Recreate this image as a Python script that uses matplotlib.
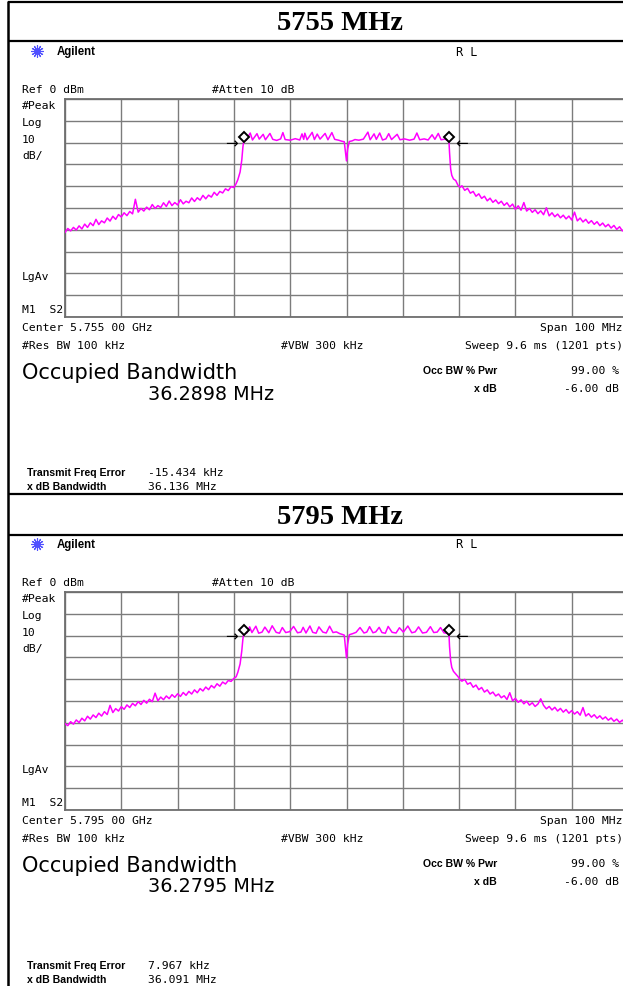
import numpy as np
import matplotlib.pyplot as plt

W, H = 623, 987

# ---- trace 1 : 5755 MHz (offset from centre in MHz, level in dBm) ----
left1_f = [-50.0, -49.5, -49.0, -48.5, -48.0, -47.5, -47.0, -46.5, -46.0, -45.5,
           -45.0, -44.5, -44.0, -43.5, -43.0, -42.5, -42.0, -41.5, -41.0, -40.5,
           -40.0, -39.5, -39.0, -38.5, -38.0, -37.5, -37.0, -36.5, -36.0, -35.5,
           -35.0, -34.5, -34.0, -33.5, -33.0, -32.5, -32.0, -31.5, -31.0, -30.5,
           -30.0, -29.5, -29.0, -28.5, -28.0, -27.5, -27.0, -26.5, -26.0, -25.5,
           -25.0, -24.5, -24.0, -23.5, -23.0, -22.5, -22.0, -21.5, -21.0, -20.5,
           -20.0, -19.6, -19.3, -18.9, -18.6, -18.4, -18.2]
left1_db = [-61.2, -59.4, -60.5, -58.9, -60.1, -58.2, -59.6, -57.4, -58.9, -56.8,
            -58.1, -55.2, -57.6, -55.9, -56.8, -54.6, -56.0, -53.8, -55.2, -53.0,
            -54.1, -52.2, -53.5, -51.6, -52.7, -46.0, -51.9, -50.2, -51.4, -49.6,
            -50.8, -48.4, -50.2, -48.9, -49.8, -47.6, -49.3, -46.8, -48.9, -47.5,
            -48.6, -46.2, -48.1, -46.9, -47.6, -45.4, -47.0, -45.3, -46.4, -44.2,
            -45.8, -44.1, -45.0, -42.8, -44.2, -42.4, -43.1, -41.2, -42.0, -40.2,
            -40.6, -38.8, -37.0, -33.5, -28.0, -22.0, -18.6]
top1_f = [-17.8, -17.1, -16.7, -15.9, -15.5, -14.8, -14.4, -13.6, -13.1, -12.4,
          -11.7, -11.3, -10.9, -10.0, -9.1, -8.3, -7.9, -7.6, -7.4, -7.0,
          -6.1, -5.7, -5.2, -4.7, -3.8, -3.3, -2.6, -2.1, -1.4, -0.8,
          -0.4, -0.2, 0.0, 0.2, 0.5, 1.0, 1.5, 2.2, 3.0, 3.8,
          4.2, 4.9, 5.3, 5.9, 6.4, 7.0, 7.5, 8.0, 9.0, 9.5,
          10.3, 11.2, 12.0, 12.5, 13.0, 13.8, 14.5, 15.2, 15.7, 16.3,
          16.8, 17.5, 18.0, 18.2]
top1_db = [-18.9, -15.6, -18.8, -15.9, -18.4, -16.2, -18.7, -15.8, -18.5, -19.0,
           -18.3, -15.4, -18.6, -18.9, -18.2, -18.8, -16.0, -18.5, -15.7, -18.7,
           -15.3, -18.6, -16.1, -18.4, -15.8, -18.7, -15.4, -18.5, -18.9, -19.4,
           -19.6, -24.0, -28.4, -23.0, -19.5, -19.2, -18.6, -18.9, -18.4, -15.2,
           -18.7, -16.0, -18.5, -15.6, -18.8, -18.3, -15.9, -18.6, -16.2, -18.7,
           -18.3, -18.9, -18.4, -15.6, -18.7, -18.3, -18.8, -16.4, -18.5, -15.8,
           -18.7, -18.4, -19.0, -19.3]
right1_f = [18.3, 18.5, 18.7, 19.0, 19.4, 19.8, 20.2, 20.5, 21.0, 21.5,
            22.0, 22.5, 23.0, 23.5, 24.0, 24.5, 25.0, 25.5, 26.0, 26.5,
            27.0, 27.5, 28.0, 28.5, 29.0, 29.5, 30.0, 30.5, 31.0, 31.5,
            32.0, 32.5, 33.0, 33.5, 34.0, 34.5, 35.0, 35.5, 36.0, 36.5,
            37.0, 37.5, 38.0, 38.5, 39.0, 39.5, 40.0, 40.5, 41.0, 41.5,
            42.0, 42.5, 43.0, 43.5, 44.0, 44.5, 45.0, 45.5, 46.0, 46.5,
            47.0, 47.5, 48.0, 48.5, 49.0, 49.5, 50.0]
right1_db = [-24.5, -32.1, -35.0, -36.7, -37.4, -39.6, -40.5, -39.8, -41.9, -41.0,
             -43.2, -42.4, -44.6, -43.5, -45.6, -44.6, -46.7, -45.5, -47.4, -46.3,
             -48.0, -46.9, -48.8, -47.6, -49.5, -48.2, -50.6, -49.0, -51.0, -47.5,
             -51.4, -50.2, -52.0, -50.8, -52.6, -51.3, -53.1, -49.9, -53.6, -52.2,
             -54.0, -52.8, -54.5, -53.3, -55.0, -53.7, -55.5, -51.9, -55.9, -54.6,
             -56.4, -55.2, -57.0, -55.8, -57.5, -56.3, -58.1, -56.9, -58.6, -57.5,
             -59.2, -58.0, -59.8, -58.6, -60.5, -59.3, -60.8]

# ---- trace 2 : 5795 MHz ----
left2_f = left1_f
left2_db = [-60.4, -61.3, -59.5, -60.6, -58.7, -59.9, -57.9, -59.1, -57.0, -58.3,
            -56.4, -57.6, -55.6, -56.9, -54.9, -56.2, -52.0, -55.3, -53.5, -54.6,
            -52.6, -53.8, -51.8, -53.0, -51.1, -52.2, -50.3, -51.6, -49.7, -51.0,
            -49.2, -50.3, -46.4, -49.9, -48.2, -49.4, -47.7, -48.9, -47.1, -48.3,
            -46.7, -47.9, -46.1, -47.4, -45.6, -46.8, -44.9, -46.2, -44.3, -45.4,
            -43.6, -44.8, -42.9, -44.0, -42.1, -43.2, -41.3, -42.2, -40.6, -41.0,
            -39.6, -38.9, -36.8, -33.0, -27.0, -21.5, -18.5]
top2_f = [-17.7, -17.2, -16.8, -16.1, -15.6, -15.0, -14.5, -13.8, -13.2, -12.5,
          -11.9, -11.4, -10.8, -10.1, -9.4, -8.7, -8.1, -7.7, -7.2, -6.5,
          -6.0, -5.4, -4.9, -4.2, -3.6, -3.0, -2.4, -1.8, -1.2, -0.7,
          -0.4, -0.2, 0.0, 0.2, 0.5, 1.1, 1.7, 2.4, 3.1, 3.6,
          4.1, 4.7, 5.2, 5.8, 6.3, 6.9, 7.4, 8.1, 8.8, 9.4,
          10.1, 10.9, 11.6, 12.2, 12.8, 13.5, 14.2, 14.9, 15.5, 16.1,
          16.7, 17.3, 17.9, 18.2]
top2_db = [-18.8, -16.0, -18.6, -15.7, -18.9, -18.4, -16.1, -18.7, -15.5, -18.5,
           -18.9, -16.3, -18.6, -18.2, -15.8, -18.7, -18.4, -16.2, -18.8, -15.6,
           -18.5, -18.9, -16.0, -18.4, -18.8, -15.7, -18.6, -18.3, -19.1, -19.5,
           -19.8, -25.0, -30.2, -24.0, -19.6, -19.1, -18.5, -16.3, -18.8, -18.4,
           -15.9, -18.7, -18.3, -16.2, -18.6, -18.9, -15.8, -18.5, -18.8, -16.4,
           -18.4, -15.6, -18.7, -18.3, -16.0, -18.8, -18.5, -15.9, -18.6, -18.4,
           -16.3, -18.7, -19.0, -19.4]
right2_f = right1_f
right2_db = [-25.0, -31.5, -34.6, -36.4, -37.6, -38.8, -40.3, -40.9, -40.1, -42.3,
             -41.6, -43.7, -42.7, -44.8, -43.8, -45.9, -44.9, -46.8, -45.9, -47.7,
             -46.8, -48.5, -47.6, -49.3, -46.2, -49.9, -48.8, -50.6, -49.5, -51.3,
             -50.1, -51.9, -50.8, -52.5, -51.4, -49.0, -52.0, -53.6, -52.5, -54.1,
             -52.9, -54.6, -53.4, -55.1, -53.9, -55.6, -54.4, -56.0, -54.9, -56.5,
             -53.0, -56.9, -55.8, -57.4, -56.3, -57.9, -56.8, -58.3, -57.3, -58.8,
             -57.8, -59.3, -58.3, -59.8, -58.8, -60.2, -59.4]

titles = ["5755 MHz", "5795 MHz"]
centres = ["Center 5.755 00 GHz", "Center 5.795 00 GHz"]
occ_bw = [36.2898, 36.2795]          # MHz
freq_err = ["-15.434 kHz", "7.967 kHz"]
xdb_bw = ["36.136 MHz", "36.091 MHz"]

traces = [
    (left1_f + top1_f + right1_f, left1_db + top1_db + right1_db),
    (left2_f + top2_f + right2_f, left2_db + top2_db + right2_db),
]

MONO = "DejaVu Sans Mono"
SANS = "Liberation Sans"

fig = plt.figure(figsize=(W / 100, H / 100), dpi=100)
bg = fig.add_axes([0, 0, 1, 1], zorder=0)
bg.set_xlim(0, W)
bg.set_ylim(H, 0)
bg.axis("off")


def txt(x, y, s, **kw):
    kw.setdefault("family", MONO)
    kw.setdefault("fontsize", 8.2)
    kw.setdefault("va", "center")
    bg.text(x, y, s, **kw)


# outer frame
bg.plot([8, 8], [2, H], color="black", lw=1.8, solid_capstyle="butt")
for yy in [3, 42, 495, 536]:
    bg.plot([8, W], [yy, yy], color="black", lw=1.6, solid_capstyle="butt")

panel_dy = [0, 493]
for i in range(2):
    d = panel_dy[i]
    txt(340, 24 + d, titles[i], family="Liberation Serif", weight="bold",
        fontsize=20.5, ha="center")

    # instrument header
    bg.plot(37, 52 + d, marker=(12, 2, 0), ms=9, color="#5050ff", mew=0.8)
    txt(57, 52 + d, "Agilent", family=SANS, weight="bold", fontsize=8.3)
    txt(456, 52 + d, "R L", fontsize=8.5)
    txt(22, 90 + d, "Ref 0 dBm")
    txt(212, 90 + d, "#Atten 10 dB")
    for yy, s in zip([106, 123, 140, 156], ["#Peak", "Log", "10", "dB/"]):
        txt(22, yy + d, s)
    txt(22, 277 + d, "LgAv")
    txt(22, 310 + d, "M1  S2")
    txt(22, 328 + d, centres[i])
    txt(W, 328 + d, "Span 100 MHz", ha="right")
    txt(22, 346 + d, "#Res BW 100 kHz")
    txt(281, 346 + d, "#VBW 300 kHz")
    txt(W, 346 + d, "Sweep 9.6 ms (1201 pts)", ha="right")

    # measurement readout
    txt(22, 373 + d, "Occupied Bandwidth", family="DejaVu Sans", fontsize=15)
    txt(148, 394 + d, f"{occ_bw[i]:.4f} MHz", family="DejaVu Sans",
        fontsize=13.8)
    txt(497, 371 + d, "Occ BW % Pwr", family=SANS, weight="bold",
        fontsize=7.6, ha="right")
    txt(619, 371 + d, "99.00 %", ha="right")
    txt(497, 389 + d, "x dB", family=SANS, weight="bold", fontsize=7.6,
        ha="right")
    txt(619, 389 + d, "-6.00 dB", ha="right")
    txt(27, 473 + d, "Transmit Freq Error", family=SANS, weight="bold",
        fontsize=7.6)
    txt(148, 473 + d, freq_err[i])
    txt(27, 487 + d, "x dB Bandwidth", family=SANS, weight="bold",
        fontsize=7.6)
    txt(148, 487 + d, xdb_bw[i])

    # graticule and trace
    top, bot = 100 + d, 318 + d
    ax = fig.add_axes([65 / W, 1 - bot / H, 563 / W, (bot - top) / H],
                      zorder=1)
    ax.set_facecolor("none")
    ax.set_xlim(-50, 50)
    ax.set_ylim(-100, 0)
    ax.set_xticks(np.arange(-50, 51, 10))
    ax.set_yticks(np.arange(-100, 1, 10))
    ax.tick_params(length=0, labelbottom=False, labelleft=False)
    ax.grid(True, color="#7c7c7c", lw=1.0)
    for sp in ax.spines.values():
        sp.set_color("#6e6e6e")
        sp.set_linewidth(1.3)

    f, lv = traces[i]
    ax.plot(f, lv, color="#ff00ff", lw=1.1, zorder=3)
    half = occ_bw[i] / 2
    ax.plot([-half, half], [-17.6, -17.6], ls="none", marker="D", ms=5,
            mfc="white", mec="black", mew=1.4, zorder=5)
    ax.text(-half - 2.3, -20.3, "\u2192", ha="center", va="center",
            fontsize=11, zorder=5)
    ax.text(half + 2.3, -20.3, "\u2190", ha="center", va="center",
            fontsize=11, zorder=5)

fig.savefig("out.png", dpi=100, facecolor="white")
